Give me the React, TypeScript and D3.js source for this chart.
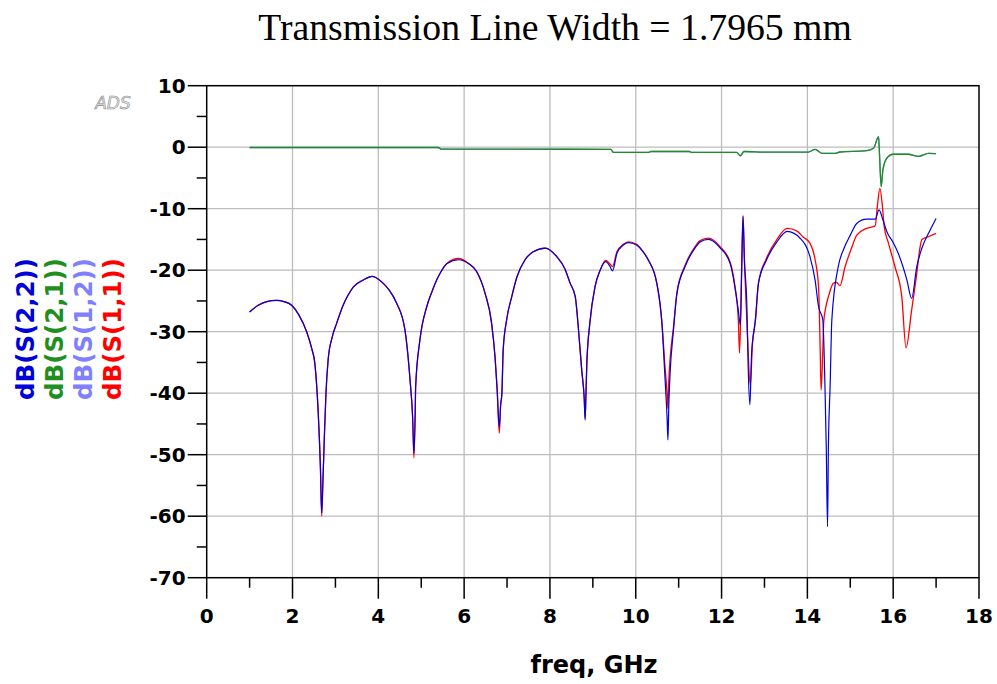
import React from "react";
import * as d3 from "d3";

const title = "Transmission Line Width = 1.7965 mm";
const xLabel = "freq, GHz";
const xTicks = [0, 2, 4, 6, 8, 10, 12, 14, 16, 18];
const yTicks = [10, 0, -10, -20, -30, -40, -50, -60, -70];

const legendNames = ["dB(S(2,2))", "dB(S(2,1))", "dB(S(1,2))", "dB(S(1,1))"];
const legendColors = ["#0000d8", "#1f8f1f", "#8080ff", "#ff0000"];

// S22 (blue)
const f22 = [1.0,1.2,1.4,1.63,1.8,1.98,2.15,2.33,2.45,2.52,2.6,2.65,2.68,2.71,2.74,2.78,2.83,2.92,3.03,3.18,3.3,3.42,3.65,3.85,4.08,4.25,4.43,4.62,4.74,4.8,4.83,4.86,4.87,4.97,5.13,5.25,5.36,5.44,5.6,5.87,6.1,6.29,6.49,6.64,6.72,6.77,6.82,6.85,6.88,6.91,6.99,7.11,7.23,7.42,7.61,7.89,8.16,8.35,8.47,8.59,8.66,8.74,8.8,8.82,8.84,8.86,8.93,9.05,9.17,9.3,9.4,9.46,9.56,9.71,9.83,10.02,10.15,10.29,10.49,10.61,10.68,10.73,10.75,10.77,10.8,10.88,10.96,11.15,11.38,11.5,11.69,11.97,12.2,12.31,12.39,12.44,12.47,12.5,12.53,12.59,12.62,12.66,12.7,12.78,12.86,13.05,13.29,13.53,13.83,14.06,14.18,14.26,14.36,14.41,14.44,14.47,14.49,14.53,14.57,14.72,14.85,15.0,15.15,15.38,15.58,15.67,15.76,15.85,16.0,16.12,16.32,16.43,16.55,16.67,16.86,17.0];
const s22 = [-26.8,-25.7,-25.1,-24.9,-25.1,-25.7,-27.3,-30,-32.8,-35.1,-43.3,-52,-59.5,-54,-47.6,-40,-34.6,-31,-28.6,-25.7,-24,-22.7,-21.6,-21.0,-21.9,-23.2,-25.4,-29.7,-37.9,-44,-49.8,-43,-38.9,-31.3,-25.9,-23.5,-21.6,-20.5,-18.9,-18.3,-18.9,-20.2,-23.8,-28.6,-34.1,-39.5,-45.5,-42,-40,-33,-28.1,-24.3,-21.1,-18.3,-17,-16.4,-17.8,-19.8,-22.1,-24.3,-29.2,-36.2,-41,-44.4,-40,-35.1,-28.6,-22.7,-20,-18.6,-19.4,-20.1,-17.3,-15.9,-15.5,-15.9,-16.8,-18.3,-22.1,-28.6,-37.3,-44,-47.6,-42,-36.8,-29.7,-23.8,-19.4,-16.4,-15.4,-15.0,-16.4,-18.9,-22.7,-26.5,-29,-20,-11.3,-18,-25.9,-35.7,-41.9,-33.5,-28.6,-22.1,-18.3,-15.4,-13.7,-14.8,-17.8,-21.6,-25.9,-28.1,-38.9,-48.7,-61.7,-48.7,-38.9,-28.1,-19.4,-16.5,-14.3,-12.4,-11.7,-11.7,-10.2,-11.8,-13.7,-15.5,-17.3,-21.6,-24.6,-19.4,-16.4,-13.5,-11.6];

// S11 (red)
const f11 = [1.0,1.2,1.4,1.63,1.8,1.98,2.15,2.33,2.45,2.52,2.6,2.65,2.68,2.71,2.74,2.78,2.83,2.92,3.03,3.18,3.3,3.42,3.65,3.85,4.08,4.25,4.43,4.62,4.74,4.8,4.83,4.86,4.87,4.97,5.13,5.25,5.36,5.44,5.6,5.87,6.1,6.29,6.49,6.64,6.72,6.77,6.82,6.85,6.88,6.91,6.99,7.11,7.23,7.42,7.61,7.89,8.16,8.35,8.47,8.59,8.66,8.74,8.8,8.82,8.84,8.86,8.93,9.05,9.17,9.3,9.4,9.46,9.56,9.71,9.83,10.02,10.15,10.29,10.49,10.61,10.68,10.73,10.75,10.77,10.8,10.88,10.96,11.15,11.38,11.5,11.69,11.97,12.2,12.31,12.39,12.42,12.46,12.5,12.54,12.6,12.67,12.72,12.8,12.86,13.05,13.29,13.53,13.75,13.9,14.06,14.18,14.26,14.28,14.3,14.32,14.36,14.38,14.43,14.49,14.61,14.68,14.76,14.88,15.03,15.15,15.38,15.58,15.63,15.69,15.75,15.79,15.89,16.04,16.2,16.3,16.43,16.55,16.62,16.67,16.8,17.0];
const s11 = [-26.8,-25.7,-25.1,-24.9,-25.1,-25.7,-27.3,-30,-32.8,-35.1,-43.3,-52,-60,-54,-47.6,-40,-34.6,-31,-28.6,-25.7,-24,-22.7,-21.6,-21.0,-21.9,-23.2,-25.4,-29.7,-37.9,-44,-50.5,-43,-38.9,-31.3,-25.9,-23.5,-21.6,-20.5,-18.9,-18.1,-18.9,-20.2,-23.8,-28.6,-34.1,-39.5,-46.5,-42,-40,-33,-28.1,-24.3,-21.1,-18.3,-17,-16.4,-17.8,-19.8,-22.1,-24.3,-29.2,-36.2,-41,-44,-40,-35.1,-28.6,-22.7,-20,-18.4,-19.0,-19.4,-17.0,-15.8,-15.4,-15.8,-16.8,-18.3,-22.1,-28.6,-35.5,-40,-42.5,-38,-34.5,-29.2,-23.6,-19.2,-16.2,-15.2,-14.8,-16.2,-18.7,-22.5,-28,-33.5,-22,-11.1,-20,-30,-38.7,-32,-27.5,-22.1,-18,-15,-13.2,-13.6,-14.6,-15.6,-18.3,-22.7,-27,-33.5,-39.5,-33,-28.5,-26,-24.3,-22.1,-22,-22.5,-19.4,-16.4,-14.3,-13.2,-12.8,-9.7,-6.7,-9.7,-12.9,-15.6,-19.4,-24.3,-32.6,-26.5,-20.5,-16.5,-15,-14.6,-14.0];

// S21 (green)
const f21 = [1.0,5.4,5.46,9.42,9.48,10.3,10.35,11.25,11.3,12.35,12.44,12.52,13.05,14.02,14.18,14.34,14.65,14.76,15.38,15.54,15.66,15.68,15.72,15.76,15.85,16.0,16.35,16.59,16.82,17.0];
const s21 = [-0.05,-0.05,-0.3,-0.35,-0.85,-0.85,-0.7,-0.7,-0.85,-0.85,-1.4,-0.7,-0.8,-0.8,-0.35,-1.0,-1.0,-0.78,-0.57,-0.18,1.7,-1.0,-6.4,-3.7,-1.8,-1.15,-1.15,-1.5,-1.0,-1.05];

// S12 (light purple) - lies under S21
const f12 = f21;
const s12 = s21;

const W = 997;
const H = 684;
const x = d3.scaleLinear().domain([0, 18]).range([206.7, 979]);
const y = d3.scaleLinear().domain([-70, 10]).range([577.7, 85.7]);

const lineGen = d3
  .line<[number, number]>()
  .x((d) => x(d[0]))
  .y((d) => y(d[1]))
  .curve(d3.curveMonotoneX);

function path(fs: number[], vs: number[]) {
  return lineGen(fs.map((f, i) => [f, vs[i]] as [number, number])) || "";
}

export default function App() {
  const font = "'DejaVu Sans', Verdana, sans-serif";
  const [x0, x1] = x.range();
  const [y0, y1] = y.range();
  const xMinor = d3.range(1, 18, 2);
  const yMinor = d3.range(-65, 10, 10);
  return (
    <svg
      width={W}
      height={H}
      style={{ position: "absolute", left: 0, top: 0, background: "#fff" }}
    >
      <rect x={0} y={0} width={W} height={H} fill="#fff" />
      <text
        x={555}
        y={40}
        textAnchor="middle"
        fontFamily="'Liberation Serif', 'Times New Roman', serif"
        fontSize={37.7}
        fill="#000"
      >
        {title}
      </text>
      {/* grid */}
      {xTicks.slice(1, -1).map((t) => (
        <line key={"gx" + t} x1={x(t)} x2={x(t)} y1={y0} y2={y1} stroke="#bdbdbd" strokeWidth={1.3} />
      ))}
      {yTicks.slice(1, -1).map((t) => (
        <line key={"gy" + t} x1={x0} x2={x1} y1={y(t)} y2={y(t)} stroke="#bdbdbd" strokeWidth={1.3} />
      ))}
      {/* curves */}
      <path d={path(f11, s11)} fill="none" stroke={legendColors[3]} strokeWidth={1.3} />
      <path d={path(f12, s12)} fill="none" stroke={legendColors[2]} strokeWidth={1.3} />
      <path d={path(f21, s21)} fill="none" stroke={legendColors[1]} strokeWidth={1.3} />
      <path d={path(f22, s22)} fill="none" stroke={legendColors[0]} strokeWidth={1.2} />
      {/* frame */}
      <rect x={x0} y={y1} width={x1 - x0} height={y0 - y1} fill="none" stroke="#000" strokeWidth={1.5} />
      {/* y ticks */}
      {yTicks.map((t) => (
        <g key={"yt" + t}>
          <line x1={x0 - 19} x2={x0} y1={y(t)} y2={y(t)} stroke="#000" strokeWidth={1.5} />
          <text
            x={x0 - 21}
            y={y(t)}
            textAnchor="end"
            dominantBaseline="central"
            fontFamily={font}
            fontWeight="bold"
            fontSize={20}
          >
            {t}
          </text>
        </g>
      ))}
      {yMinor.map((t) => (
        <line key={"ym" + t} x1={x0 - 10} x2={x0} y1={y(t)} y2={y(t)} stroke="#000" strokeWidth={1.5} />
      ))}
      {/* x ticks */}
      {xTicks.map((t) => (
        <g key={"xt" + t}>
          <line x1={x(t)} x2={x(t)} y1={y0} y2={y0 + 21} stroke="#000" strokeWidth={1.5} />
          <text
            x={x(t)}
            y={623}
            textAnchor="middle"
            fontFamily={font}
            fontWeight="bold"
            fontSize={20}
          >
            {t}
          </text>
        </g>
      ))}
      {xMinor.map((t) => (
        <line key={"xm" + t} x1={x(t)} x2={x(t)} y1={y0} y2={y0 + 10} stroke="#000" strokeWidth={1.5} />
      ))}
      <text
        x={594}
        y={673}
        textAnchor="middle"
        fontFamily={font}
        fontWeight="bold"
        fontSize={24}
      >
        {xLabel}
      </text>
      {/* y labels */}
      {legendNames.map((n, i) => (
        <text
          key={n}
          transform={`translate(${25 + i * 29.2},329) rotate(-90)`}
          textAnchor="middle"
          dominantBaseline="central"
          fontFamily={font}
          fontWeight="bold"
          fontSize={24.5}
          fill={legendColors[i]}
        >
          {n}
        </text>
      ))}
      <text
        x={113}
        y={109}
        textAnchor="middle"
        fontFamily={font}
        fontStyle="italic"
        fontSize={17}
        fill="#e8e8e8"
        stroke="#8a8a8a"
        strokeWidth={0.6}
      >
        ADS
      </text>
    </svg>
  );
}
